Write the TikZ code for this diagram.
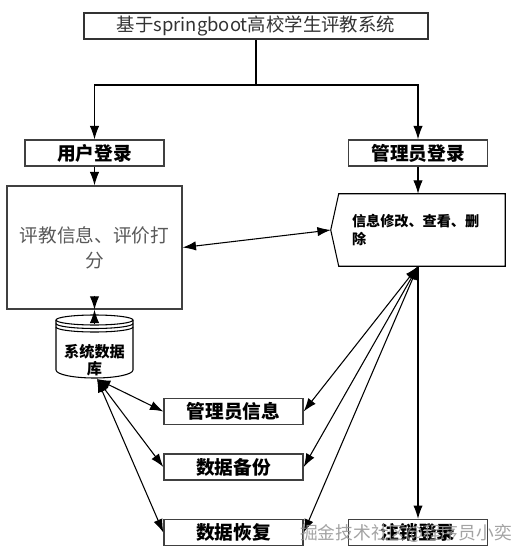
\documentclass[tikz,border=0pt]{standalone}
\usepackage{fontspec}
\newfontfamily\cjk{Noto Sans CJK SC}
\usetikzlibrary{arrows.meta,calc}
\def\px{0.75pt}
\begin{document}
\begin{tikzpicture}[x=0.75pt,y=-0.75pt,
  font=\cjk,
  box/.style={draw=black!75, line width=1pt, inner sep=0pt, minimum height=26*\px},
  bbox/.style={box, minimum width=139*\px, font=\cjk\bfseries\fontsize{14pt}{16pt}\selectfont},
  conn/.style={line width=0.8pt, draw=black},
  tip/.style={-{Latex[length=10pt,width=7pt]}},
  dtip/.style={{Latex[length=10pt,width=7pt]}-{Latex[length=10pt,width=7pt]}},
]
\useasboundingbox (0,0) rectangle (524,559);
\fill[white] (0,0) rectangle (524,559);

% top
\node[box, draw=black!80, line width=1.2pt, minimum width=344*\px, text=black!80,
  font=\cjk\fontsize{13.8pt}{16pt}\selectfont] (title) at (256,26) {基于springboot高校学生评教系统};
\node[bbox] (user) at (94.5,153) {用户登录};
\node[bbox] (admin) at (418,153) {管理员登录};

% user side
\node[box, minimum width=175*\px, minimum height=123*\px, align=center, text=black!65,
  font=\cjk\fontsize{14pt}{18.75pt}\selectfont] (pj) at (94.5,247.5) {评教信息、评价打\\分};

% admin side
\node[inner xsep=13*\px, inner ysep=0pt, minimum height=72*\px, text width=140*\px, align=left,
  font=\cjk\bfseries\fontsize{10.6pt}{13.5pt}\selectfont] (pent) at (422,230) {信息修改、查看、删\\除};
\draw[line width=0.8pt] (pent.north west) -- (pent.north east) -- (pent.south east)
  -- (pent.south west) -- ($(pent.west)+(-8,0)$) -- cycle;
\coordinate (ptip) at ($(pent.west)+(-8,0)$);

% database
\draw[line width=0.8pt, fill=white] (56,320) -- (56,370)
  arc[start angle=180,end angle=0,x radius=38.5,y radius=8] -- (133,320)
  arc[start angle=0,end angle=-180,x radius=38.5,y radius=5] -- cycle;
\draw[line width=0.8pt] (56,320) arc[start angle=180,end angle=0,x radius=38.5,y radius=5];
\draw[line width=0.8pt] (56,323.5) arc[start angle=180,end angle=0,x radius=38.5,y radius=5];
\draw[line width=0.8pt] (56,327) arc[start angle=180,end angle=0,x radius=38.5,y radius=5];
\node[align=center, inner sep=0pt, font=\cjk\bfseries\fontsize{11.4pt}{12.75pt}\selectfont] (db) at (94.5,360) {系统数据\\库};
\coordinate (dbb) at (97,379);

% bottom boxes
\node[bbox] (ainfo) at (233.5,411.5) {管理员信息};
\node[bbox] (backup) at (233.5,467) {数据备份};
\node[bbox] (restore) at (233.5,532.5) {数据恢复};
\node[bbox] (logout) at (418,532.5) {注销登录};

% connectors
\coordinate (split) at ($(title.south |- 0,85)$);
\draw[conn, line width=1.1pt] (title.south) -- (split);
\draw[conn, tip] (split) -| (user.north);
\draw[conn, tip] (split) -| (admin.north);
\draw[conn, tip] (user.south) -- (pj.north);
\draw[conn, tip] (admin.south) -- (admin.south |- pent.north);
\draw[conn, dtip] (pj.east) -- (ptip);
\draw[conn, tip] ($(pj.south)+(0,-14)$) -- (pj.south);
\draw[conn, tip] ($(pj.south)+(0,14)$) -- (pj.south);

\draw[conn, dtip] (dbb) -- (ainfo.west);
\draw[conn, dtip] (dbb) -- (backup.west);
\draw[conn, dtip] (dbb) -- (restore.west);

\coordinate (pb) at (pent.south -| admin.south);
\draw[conn, dtip] (pb) -- (ainfo.east);
\draw[conn, dtip] (pb) -- (backup.east);
\draw[conn, dtip] (pb) -- (restore.east);
\draw[conn, tip] (pb) -- (logout.north);

% watermark
\node[text=gray!85, opacity=0.85, font=\cjk\fontsize{13.3pt}{16pt}\selectfont] (wm) at (406,533) {掘金技术社区@程序员小奕};
\end{tikzpicture}
\end{document}
